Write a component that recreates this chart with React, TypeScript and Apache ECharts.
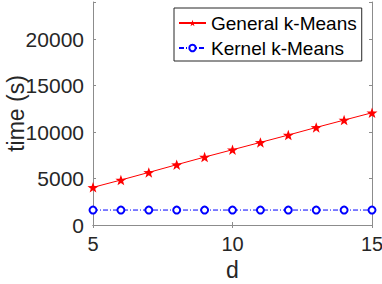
import React, { useEffect, useRef } from "react";
import * as echarts from "echarts";

const dValues = [5, 6, 7, 8, 9, 10, 11, 12, 13, 14, 15];
const generalKMeans = [4050, 4840, 5660, 6490, 7310, 8100, 8890, 9680, 10500, 11290, 12080];
const kernelKMeans = [1610, 1610, 1610, 1610, 1610, 1610, 1610, 1610, 1610, 1610, 1610];
const seriesNames = ["General k-Means", "Kernel k-Means"];

const STAR =
  "path://M0,-10 L2.35,-3.24 L9.51,-3.09 L3.8,1.24 L5.88,8.09 L0,4 L-5.88,8.09 L-3.8,1.24 L-9.51,-3.09 L-2.35,-3.24 Z";

const FONT = "'Liberation Sans', Arial, Helvetica, sans-serif";
const TEXT = "#262626";
const LINE = "#8c8c8c";

export default function App() {
  const ref = useRef<HTMLDivElement>(null);
  useEffect(() => {
    document.body.style.margin = "0";
    const chart = echarts.init(ref.current!, null, { renderer: "svg" });
    const axisCommon = {
      axisLine: { show: true, lineStyle: { color: LINE, width: 1 } },
      axisTick: { show: true, inside: true, length: 3, lineStyle: { color: LINE } },
      splitLine: { show: false },
    };
    chart.setOption({
      animation: false,
      backgroundColor: "#ffffff",
      textStyle: { fontFamily: FONT },
      grid: {
        left: 93,
        right: 10,
        top: 2,
        bottom: 59,
        containLabel: false,
        outerBoundsMode: "none",
      },
      legend: {
        orient: "vertical",
        left: 174,
        top: 8,
        padding: [5, 5, 3, 4],
        itemGap: 5,
        itemWidth: 27,
        itemHeight: 8,
        backgroundColor: "#ffffff",
        borderColor: TEXT,
        borderWidth: 1,
        borderRadius: 0,
        textStyle: { fontSize: 19, color: "#000000", fontFamily: FONT, lineHeight: 20 },
        data: seriesNames,
      },
      xAxis: [
        {
          type: "value",
          min: 5,
          max: 15,
          interval: 5,
          name: "d",
          nameLocation: "middle",
          nameGap: 33,
          nameMoveOverlap: false,
          nameTextStyle: { fontSize: 23, color: TEXT, fontFamily: FONT },
          axisLabel: { fontSize: 20, color: TEXT, margin: 9, fontFamily: FONT },
          ...axisCommon,
        },
        {
          type: "value",
          position: "top",
          min: 5,
          max: 15,
          interval: 5,
          axisLabel: { show: false },
          ...axisCommon,
        },
      ],
      yAxis: [
        {
          type: "value",
          min: 0,
          max: 24000,
          interval: 5000,
          name: "time (s)",
          nameLocation: "middle",
          nameGap: 66,
          nameMoveOverlap: false,
          nameTextStyle: { fontSize: 23, color: TEXT, fontFamily: FONT },
          axisLabel: {
            fontSize: 21,
            color: TEXT,
            margin: 9,
            fontFamily: FONT,
            formatter: (v: number) => (v % 5000 === 0 && v <= 20000 ? String(v) : ""),
          },
          ...axisCommon,
        },
        {
          type: "value",
          position: "right",
          min: 0,
          max: 24000,
          interval: 5000,
          axisLabel: { show: false },
          ...axisCommon,
        },
      ],
      series: [
        {
          name: seriesNames[0],
          type: "line",
          data: dValues.map((d, i) => [d, generalKMeans[i]]),
          symbol: STAR,
          symbolSize: [11, 10.5],
          lineStyle: { color: "#ff0000", width: 1 },
          itemStyle: { color: "#ff0000" },
          showAllSymbol: true,
        },
        {
          name: seriesNames[1],
          type: "line",
          data: dValues.map((d, i) => [d, kernelKMeans[i]]),
          symbol: "emptyCircle",
          symbolSize: 7,
          lineStyle: { color: "#0000ff", width: 1, type: [5, 2, 1, 2] },
          itemStyle: { color: "#0000ff", borderColor: "#0000ff", borderWidth: 1.2 },
          showAllSymbol: true,
        },
      ],
    });
    return () => chart.dispose();
  }, []);
  return <div ref={ref} style={{ width: 382, height: 284 }} />;
}
